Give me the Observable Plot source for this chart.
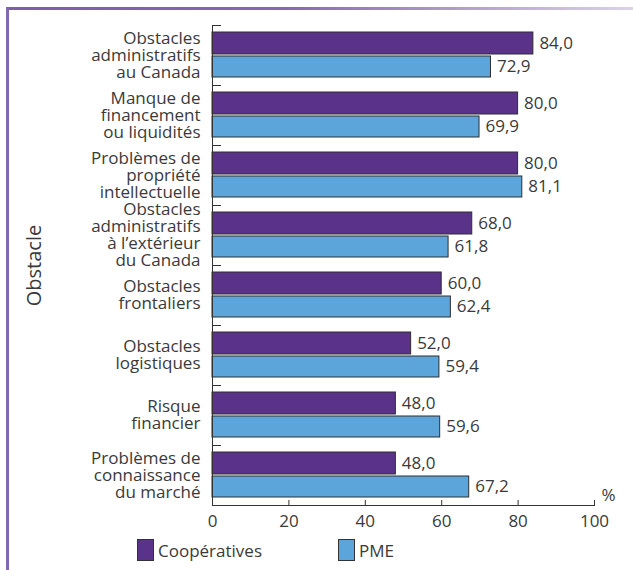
<!DOCTYPE html>
<html><head><meta charset="utf-8">
<script src="https://cdn.jsdelivr.net/npm/d3@7"></script>
<script src="https://cdn.jsdelivr.net/npm/@observablehq/plot@0.6"></script>
<style>
body{margin:0;background:#fff;font-family:"Open Sans",sans-serif;color:#3a3a3a;}
#wrap{position:relative;width:633px;height:570px;overflow:hidden;}
#topline{position:absolute;left:6px;top:7px;width:627px;height:3px;background:linear-gradient(to right,#7b5ea8 0%,#8669b1 45%,#dcd3e8 100%);}
#leftline{position:absolute;left:6px;top:7px;width:3px;height:563px;background:#8467b2;}
#chart{position:absolute;left:0;top:0;}
#legend{position:absolute;top:539px;left:0;width:633px;height:22px;font-size:17px;}
.item{position:absolute;top:0;display:flex;align-items:center;height:22px;}
.sw{width:15px;height:20px;border:1px solid #333;margin-right:4px;}
</style></head>
<body>
<div id="wrap">
  <div id="topline"></div>
  <div id="leftline"></div>
  <div id="chart"></div>
  <div id="legend"></div>
</div>
<script>
const categories = [
  "Obstacles\nadministratifs\nau Canada",
  "Manque de\nfinancement\nou liquidités",
  "Problèmes de\npropriété\nintellectuelle",
  "Obstacles\nadministratifs\nà l’extérieur\ndu Canada",
  "Obstacles\nfrontaliers",
  "Obstacles\nlogistiques",
  "Risque\nfinancier",
  "Problèmes de\nconnaissance\ndu marché"
];
const cooperatives = [84.0, 80.0, 80.0, 68.0, 60.0, 52.0, 48.0, 48.0];
const pme = [72.9, 69.9, 81.1, 61.8, 62.4, 59.4, 59.6, 67.2];
const seriesNames = ["Coopératives", "PME"];
const seriesColors = ["#5b328a", "#5ca5da"];
const xTicks = [0, 20, 40, 60, 80, 100];
const yTitle = "Obstacle";
const unit = "%";

const coopRows = categories.map((c, i) => ({category: c, value: cooperatives[i]}));
const pmeRows = categories.map((c, i) => ({category: c, value: pme[i]}));
const fmt = d => d.toFixed(1).replace(".", ",");
const ink = "#3a3a3a";

const chart = Plot.plot({
  width: 633,
  height: 530,
  marginLeft: 212,
  marginRight: 39,
  marginTop: 25,
  marginBottom: 25,
  style: {fontFamily: "'Open Sans', sans-serif", fontSize: "17px", color: ink, background: "transparent", overflow: "visible"},
  x: {domain: [0, 100]},
  y: {domain: categories, padding: 0},
  marks: [
    Plot.barX(coopRows, {x1: 0, x2: "value", y: "category", fill: seriesColors[0], stroke: "#2e2e2e", strokeWidth: 1, insetTop: 7, insetBottom: 31}),
    Plot.barX(pmeRows, {x1: 0, x2: "value", y: "category", fill: seriesColors[1], stroke: "#2e2e2e", strokeWidth: 1, insetTop: 31, insetBottom: 8}),
    Plot.text(coopRows, {x: "value", y: "category", text: d => fmt(d.value), dx: 6, dy: -12, textAnchor: "start", fill: ink, fontSize: 17}),
    Plot.text(pmeRows, {x: "value", y: "category", text: d => fmt(d.value), dx: 6, dy: 11, textAnchor: "start", fill: ink, fontSize: 17}),
    Plot.ruleY(categories, {y: d => d, dy: -30, insetRight: 373, stroke: "#333"}),
    Plot.ruleX(xTicks.filter(d => d > 0), {x: d => d, insetTop: 475, stroke: "#333"}),
    Plot.frame({anchor: "left", stroke: "#333"}),
    Plot.frame({anchor: "bottom", stroke: "#333"}),
    Plot.axisY({tickSize: 0, tickPadding: 12, lineHeight: 1, fontSize: 17, fill: ink, label: null}),
    Plot.axisY({ticks: [], tickSize: 0, fontSize: 20, fill: ink, label: yTitle, labelAnchor: "center", labelOffset: 186, labelArrow: "none"}),
    Plot.axisX({ticks: xTicks, tickSize: 0, tickPadding: 9, tickFormat: d => String(d), fontSize: 17, fill: ink, label: null}),
    Plot.text([unit], {frameAnchor: "bottom-right", dx: 7, dy: -5, textAnchor: "start", fill: ink, fontSize: 17})
  ]
});
document.getElementById("chart").appendChild(chart);

const legend = document.getElementById("legend");
const lefts = [137, 338];
seriesNames.forEach((name, i) => {
  const it = document.createElement("div");
  it.className = "item";
  it.style.left = lefts[i] + "px";
  const sw = document.createElement("div");
  sw.className = "sw";
  sw.style.background = seriesColors[i];
  const t = document.createElement("span");
  t.textContent = name;
  it.appendChild(sw);
  it.appendChild(t);
  legend.appendChild(it);
});
</script>
</body></html>
